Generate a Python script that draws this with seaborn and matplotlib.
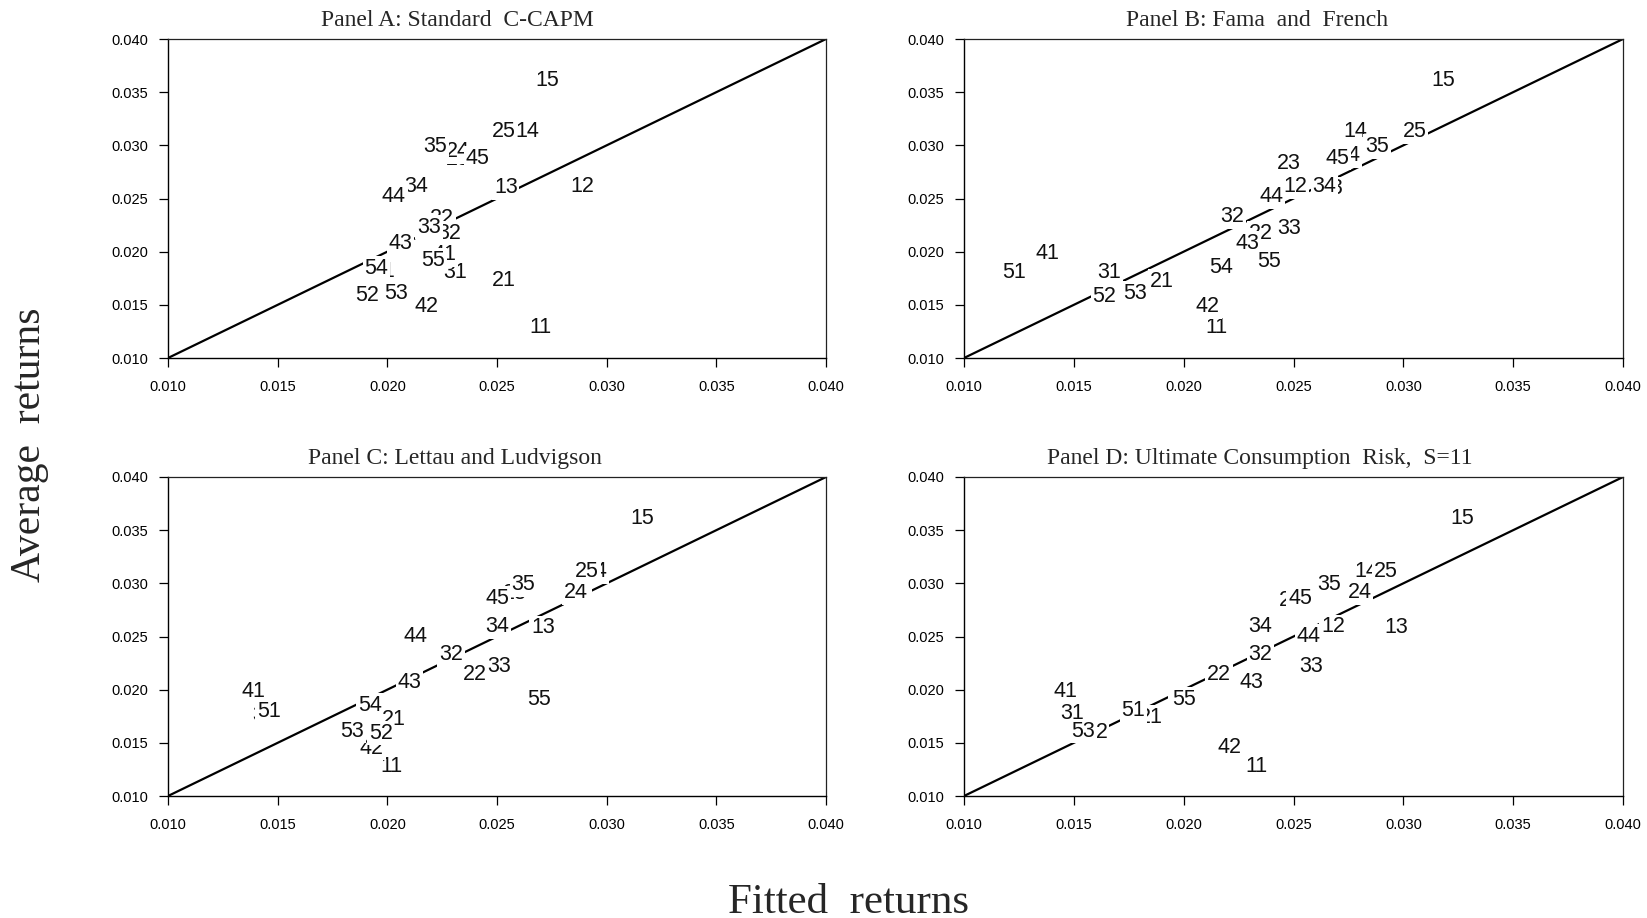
import matplotlib
matplotlib.use("Agg")
import matplotlib.pyplot as plt
import seaborn as sns
import numpy as np
import pandas as pd

# ---------------- data ----------------
labels = ["11", "12", "13", "14", "15",
          "21", "22", "23", "24", "25",
          "31", "32", "33", "34", "35",
          "41", "42", "43", "44", "45",
          "51", "52", "53", "54", "55"]

titles = ["Panel A: Standard  C-CAPM",
          "Panel B: Fama  and  French",
          "Panel C: Lettau and Ludvigson",
          "Panel D: Ultimate Consumption  Risk,  S=11"]

# Panel A: Standard C-CAPM
fitted_a = [0.0270, 0.0289, 0.0254, 0.0264, 0.0273,
            0.0253, 0.0225, 0.0232, 0.0232, 0.0253,
            0.0231, 0.0228, 0.0219, 0.0213, 0.0222,
            0.0226, 0.0218, 0.0206, 0.0203, 0.0241,
            0.0198, 0.0191, 0.0204, 0.0195, 0.0221]
avg_a = [0.0129, 0.0261, 0.0260, 0.0313, 0.0361,
         0.0173, 0.0231, 0.0287, 0.0294, 0.0313,
         0.0180, 0.0217, 0.0223, 0.0261, 0.0299,
         0.0197, 0.0148, 0.0208, 0.0252, 0.0288,
         0.0181, 0.0159, 0.0161, 0.0184, 0.0192]

# Panel B: Fama and French
fitted_b = [0.0215, 0.0251, 0.0267, 0.0278, 0.0318,
            0.0190, 0.0235, 0.0248, 0.0275, 0.0305,
            0.0166, 0.0222, 0.0248, 0.0264, 0.0288,
            0.0138, 0.0211, 0.0229, 0.0240, 0.0270,
            0.0123, 0.0164, 0.0178, 0.0217, 0.0239]
avg_b = [0.0129, 0.0261, 0.0259, 0.0313, 0.0361,
         0.0172, 0.0217, 0.0283, 0.0290, 0.0313,
         0.0180, 0.0233, 0.0222, 0.0261, 0.0299,
         0.0198, 0.0148, 0.0208, 0.0252, 0.0288,
         0.0180, 0.0158, 0.0161, 0.0185, 0.0191]

# Panel C: Lettau and Ludvigson
fitted_c = [0.0202, 0.0287, 0.0271, 0.0295, 0.0316,
            0.0203, 0.0240, 0.0258, 0.0286, 0.0291,
            0.0144, 0.0229, 0.0251, 0.0250, 0.0262,
            0.0139, 0.0193, 0.0210, 0.0213, 0.0250,
            0.0146, 0.0197, 0.0184, 0.0192, 0.0269]
avg_c = [0.0128, 0.0290, 0.0258, 0.0311, 0.0361,
         0.0172, 0.0214, 0.0290, 0.0291, 0.0311,
         0.0176, 0.0233, 0.0222, 0.0259, 0.0299,
         0.0198, 0.0145, 0.0207, 0.0250, 0.0286,
         0.0179, 0.0159, 0.0161, 0.0185, 0.0191]

# Panel D: Ultimate Consumption Risk, S=11
fitted_d = [0.0233, 0.0268, 0.0297, 0.0283, 0.0327,
            0.0185, 0.0216, 0.0249, 0.0280, 0.0292,
            0.0149, 0.0235, 0.0258, 0.0235, 0.0266,
            0.0146, 0.0221, 0.0231, 0.0257, 0.0253,
            0.0177, 0.0160, 0.0154, 0.0199, 0.0200]
avg_d = [0.0128, 0.0259, 0.0258, 0.0311, 0.0361,
         0.0174, 0.0214, 0.0284, 0.0291, 0.0311,
         0.0178, 0.0233, 0.0222, 0.0259, 0.0299,
         0.0198, 0.0146, 0.0207, 0.0250, 0.0286,
         0.0180, 0.0160, 0.0161, 0.0187, 0.0191]

diag = [0.010, 0.040]
ticks = [0.010, 0.015, 0.020, 0.025, 0.030, 0.035, 0.040]
tick_labels = ["0.010", "0.015", "0.020", "0.025", "0.030", "0.035", "0.040"]

# ---------------- style ----------------
sns.set_style("white")
plt.rcParams["font.family"] = ["Liberation Sans", "DejaVu Sans"]

W, H = 1647, 918
fig = plt.figure(figsize=(W / 100, H / 100), dpi=100)

# axes boxes in pixels: (left, top, right, bottom)
boxes = [(168, 39, 826, 358), (964, 39, 1623, 358),
         (168, 477, 826, 796), (964, 477, 1623, 796)]
title_x = [0.44, 0.444, 0.436, 0.449]
panels = [(fitted_a, avg_a), (fitted_b, avg_b), (fitted_c, avg_c), (fitted_d, avg_d)]

for i, ((l, t, r, b), (fx, ay)) in enumerate(zip(boxes, panels)):
    ax = fig.add_axes([l / W, 1 - b / H, (r - l) / W, (b - t) / H])
    sns.lineplot(x=diag, y=diag, ax=ax, color="black", linewidth=1.6, zorder=1)
    df = pd.DataFrame({"fitted": fx, "average": ay, "label": labels})
    for _, row in df.iterrows():
        ax.text(row["fitted"], row["average"], row["label"], fontsize=15.5,
                ha="center", va="center", color="#111111", zorder=3,
                family=["Liberation Sans", "DejaVu Sans"],
                bbox=dict(facecolor="white", edgecolor="none", pad=1.2))
    ax.set_xlim(0.010, 0.040)
    ax.set_ylim(0.010, 0.040)
    ax.set_xticks(ticks)
    ax.set_yticks(ticks)
    ax.set_xticklabels(tick_labels)
    ax.set_yticklabels(tick_labels)
    ax.tick_params(axis="both", direction="out", length=6.5, width=0.9,
                   color="black", labelsize=10.5, labelcolor="black")
    ax.tick_params(axis="x", pad=9, bottom=True)
    ax.tick_params(axis="y", pad=8, left=True)
    for s in ["left", "bottom"]:
        ax.spines[s].set_color("black")
        ax.spines[s].set_linewidth(1.0)
    for s in ["top", "right"]:
        ax.spines[s].set_color("#222222")
        ax.spines[s].set_linewidth(0.9)
    ax.set_xlabel("")
    ax.set_ylabel("")
    ax.text(title_x[i], 1.025, titles[i], transform=ax.transAxes, ha="center",
            va="bottom", fontsize=17, family=["Liberation Serif", "DejaVu Serif"])

fig.text(848 / W, 1 - 913 / H, "Fitted  returns", ha="center", va="baseline",
         fontsize=31, family=["Liberation Serif", "DejaVu Serif"])
fig.text(30 / W, 1 - 445 / H, "Average  returns", ha="center", va="center",
         rotation=90, fontsize=30, family=["Liberation Serif", "DejaVu Serif"])

fig.savefig("out.png", dpi=100, facecolor="white")
